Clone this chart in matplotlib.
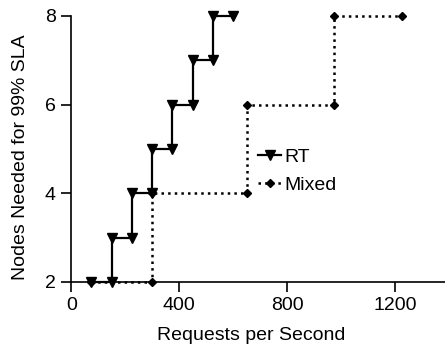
import matplotlib.pyplot as plt

# step data
rt_x = [75, 150, 150, 225, 225, 300, 300, 375, 375, 450, 450, 525, 525, 600]
rt_y = [2, 2, 3, 3, 4, 4, 5, 5, 6, 6, 7, 7, 8, 8]
mixed_x = [75, 300, 300, 650, 650, 975, 975, 1225]
mixed_y = [2, 2, 4, 4, 6, 6, 8, 8]

plt.rcParams['font.family'] = ['Liberation Sans', 'DejaVu Sans']
fs = 14

fig = plt.figure(figsize=(4.45, 3.46), dpi=100)
ax = fig.add_axes([0.16, 0.185, 0.84, 0.769])

ax.plot(mixed_x, mixed_y, color='black', linestyle=':', linewidth=1.8,
        marker='D', markersize=4.5, label='Mixed', clip_on=False, zorder=2)
ax.plot(rt_x, rt_y, color='black', linestyle='-', linewidth=1.6,
        marker='v', markersize=7, label='RT', clip_on=False, zorder=3)

ax.set_xlim(0, 1385)
ax.set_ylim(2, 8)
ax.set_xticks([0, 400, 800, 1200])
ax.set_yticks([2, 4, 6, 8])
ax.spines['top'].set_visible(False)
ax.spines['right'].set_visible(False)
ax.spines['left'].set_linewidth(1.2)
ax.spines['bottom'].set_linewidth(1.2)
ax.tick_params(direction='out', length=7, width=1.2, colors='black',
               labelsize=fs, pad=4)

ax.set_xlabel('Requests per Second', fontsize=fs)
ax.set_ylabel('Nodes Needed for 99% SLA', fontsize=fs)
ax.xaxis.set_label_coords(0.481, -0.168)
ax.yaxis.set_label_coords(-0.112, 0.47)

handles, labels = ax.get_legend_handles_labels()
ax.legend(handles[::-1], labels[::-1], loc='center left', bbox_to_anchor=(0.5, 0.417),
          frameon=False, numpoints=1, handlelength=1.2, handletextpad=0.15,
          labelspacing=0.5, borderpad=0, borderaxespad=0, fontsize=fs)

fig.savefig('out.png', dpi=100)
